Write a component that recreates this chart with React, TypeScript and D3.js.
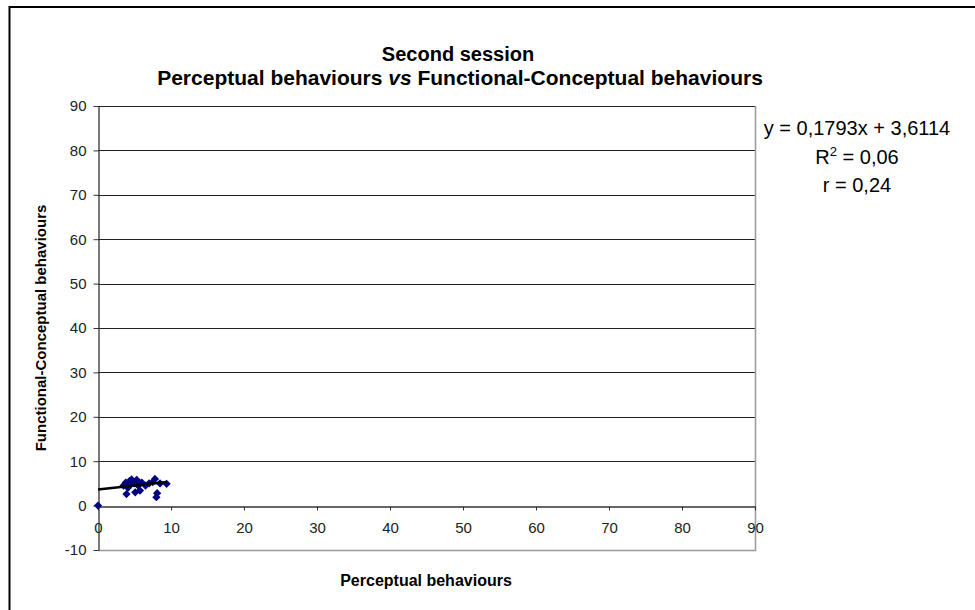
import { useEffect, useRef } from 'react';
import * as d3 from 'd3';

// perceptual (x) vs functional-conceptual (y), second session
const perceptual = [0, 3.5, 3.8, 3.9, 4.1, 4.3, 4.5, 4.6, 5.0, 5.1, 5.3, 5.5, 5.75, 6.0, 6.5, 7.0, 7.5, 7.8, 8.0, 8.1, 8.5, 9.4];
const functional = [0, 4.5, 5.2, 2.6, 4.0, 5.5, 4.8, 5.9, 5.0, 3.0, 5.8, 4.5, 3.4, 5.2, 4.5, 5.0, 5.3, 6.0, 1.9, 2.8, 5.0, 4.9];

const slope = 0.1793;
const intercept = 3.6114;
const eqLines = ['y = 0,1793x + 3,6114', 'R2 = 0,06', 'r = 0,24'];

const xTicks = [0, 10, 20, 30, 40, 50, 60, 70, 80, 90];
const yTicks = [-10, 0, 10, 20, 30, 40, 50, 60, 70, 80, 90];

const App = () => {
  const svgRef = useRef(null);

  useEffect(() => {
    const svg = d3.select(svgRef.current);
    svg.selectAll('*').remove();

    // outer chart frame (cut off on the right and bottom)
    svg
      .append('rect')
      .attr('x', 9.5)
      .attr('y', 7)
      .attr('width', 1000)
      .attr('height', 700)
      .attr('fill', 'white')
      .attr('stroke', '#000')
      .attr('stroke-width', 2);

    const plot = { left: 98, right: 755, top: 106, bottom: 550 };

    const xScale = d3.scaleLinear().domain([0, 90]).range([plot.left, plot.right]);
    const yScale = d3.scaleLinear().domain([-10, 90]).range([plot.bottom, plot.top]);

    // gridlines
    svg
      .append('g')
      .selectAll('line')
      .data(yTicks.filter((t) => t > 0))
      .enter()
      .append('line')
      .attr('x1', plot.left)
      .attr('x2', plot.right)
      .attr('y1', (d) => Math.round(yScale(d)) + 0.5)
      .attr('y2', (d) => Math.round(yScale(d)) + 0.5)
      .attr('stroke', '#222')
      .attr('stroke-width', 1);

    // plot area right + bottom border
    svg
      .append('path')
      .attr('d', `M${plot.right + 0.5},${plot.top} V${plot.bottom + 0.5} H${plot.left}`)
      .attr('fill', 'none')
      .attr('stroke', '#999')
      .attr('stroke-width', 1.5);

    const font = 'Arial, "Liberation Sans", sans-serif';

    // x axis at y = 0
    const xAxis = d3.axisBottom(xScale).tickValues(xTicks).tickSize(4).tickSizeOuter(0).tickFormat((d) => String(d));
    const gx = svg
      .append('g')
      .attr('transform', `translate(0,${Math.round(yScale(0)) + 0.5})`)
      .call(xAxis);
    gx.select('.domain').attr('stroke', '#333').attr('stroke-width', 1.3);
    gx.selectAll('.tick line').attr('stroke', '#333');
    gx.selectAll('.tick text')
      .attr('y', 16)
      .attr('fill', '#222')
      .style('font-family', font)
      .style('font-size', '15px');

    // y axis
    const yAxis = d3.axisLeft(yScale).tickValues(yTicks).tickSize(5).tickSizeOuter(0).tickFormat((d) => String(d));
    const gy = svg
      .append('g')
      .attr('transform', `translate(${plot.left + 0.5},0)`)
      .call(yAxis);
    gy.select('.domain').attr('stroke', '#333').attr('stroke-width', 1.3);
    gy.selectAll('.tick line').attr('stroke', '#333');
    gy.selectAll('.tick text')
      .attr('x', -12)
      .attr('fill', '#222')
      .style('font-family', font)
      .style('font-size', '15px');

    // points
    const pts = perceptual.map((x, i) => ({ x, y: functional[i] }));
    const diamond = d3.symbol().type(d3.symbolSquare).size(34);
    svg
      .append('g')
      .selectAll('path')
      .data(pts)
      .enter()
      .append('path')
      .attr('d', diamond)
      .attr('transform', (d) => `translate(${xScale(d.x)},${yScale(d.y)}) rotate(45)`)
      .attr('fill', '#000080');

    // linear trendline
    const xMax = d3.max(perceptual);
    const line = d3
      .line()
      .x((d) => xScale(d))
      .y((d) => yScale(slope * d + intercept));
    svg
      .append('path')
      .attr('d', line([0, xMax]))
      .attr('fill', 'none')
      .attr('stroke', '#000')
      .attr('stroke-width', 2.5);

    // titles
    svg
      .append('text')
      .attr('x', 458)
      .attr('y', 61)
      .attr('text-anchor', 'middle')
      .style('font-family', font)
      .style('font-size', '20px')
      .style('font-weight', 'bold')
      .text('Second session');

    const t2 = svg
      .append('text')
      .attr('x', 460)
      .attr('y', 85)
      .attr('text-anchor', 'middle')
      .style('font-family', font)
      .style('font-size', '21px')
      .style('font-weight', 'bold');
    t2.append('tspan').text('Perceptual behaviours ');
    t2.append('tspan').style('font-style', 'italic').text('vs');
    t2.append('tspan').text(' Functional-Conceptual behaviours');

    // axis titles
    svg
      .append('text')
      .attr('x', 426)
      .attr('y', 586)
      .attr('text-anchor', 'middle')
      .style('font-family', font)
      .style('font-size', '16px')
      .style('font-weight', 'bold')
      .text('Perceptual behaviours');

    svg
      .append('text')
      .attr('transform', `translate(46,${(plot.top + plot.bottom) / 2}) rotate(-90)`)
      .attr('text-anchor', 'middle')
      .style('font-family', font)
      .style('font-size', '15px')
      .style('font-weight', 'bold')
      .text('Functional-Conceptual behaviours');

    // equation labels
    const eqX = 857;
    svg
      .append('text')
      .attr('x', eqX)
      .attr('y', 135)
      .attr('text-anchor', 'middle')
      .style('font-family', font)
      .style('font-size', '20px')
      .text(eqLines[0]);

    const r2 = svg
      .append('text')
      .attr('x', eqX)
      .attr('y', 164)
      .attr('text-anchor', 'middle')
      .style('font-family', font)
      .style('font-size', '20px');
    r2.append('tspan').text('R');
    r2.append('tspan').attr('dy', -8).style('font-size', '13px').text('2');
    r2.append('tspan').attr('dy', 8).text(eqLines[1].slice(2));

    svg
      .append('text')
      .attr('x', eqX)
      .attr('y', 192)
      .attr('text-anchor', 'middle')
      .style('font-family', font)
      .style('font-size', '20px')
      .text(eqLines[2]);
  }, []);

  return (
    <div style={{ position: 'absolute', left: 0, top: 0 }}>
      <svg ref={svgRef} width={975} height={610} style={{ display: 'block', background: 'white' }}></svg>
    </div>
  );
};

export default App;
